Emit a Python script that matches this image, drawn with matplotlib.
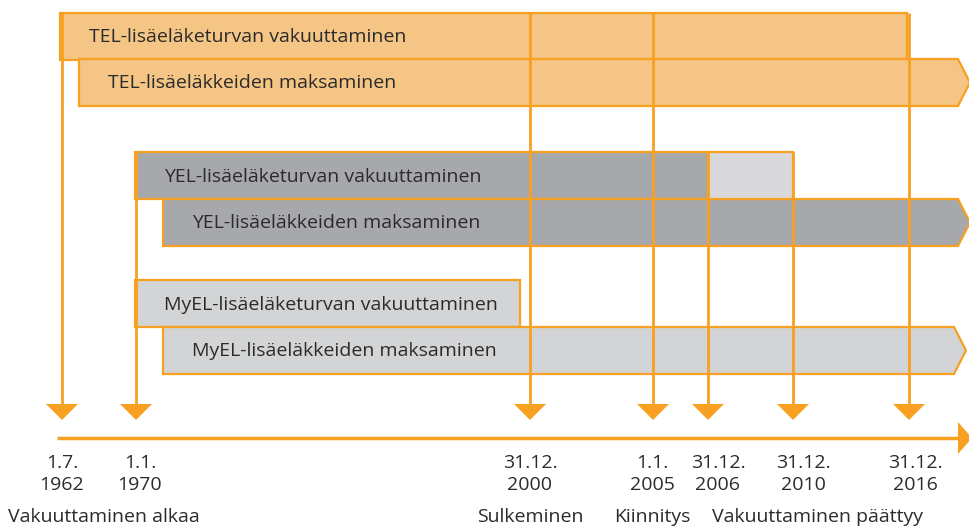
import matplotlib.pyplot as plt
from matplotlib.patches import Polygon, Rectangle

plt.rcParams["font.family"] = ["Open Sans", "DejaVu Sans"]

# ── Data ──────────────────────────────────────────────────
event_dates = ["1.7.\n1962", "1.1.\n1970", "31.12.\n2000", "1.1.\n2005",
               "31.12.\n2006", "31.12.\n2010", "31.12.\n2016"]
event_x     = [62, 136, 530, 653, 708, 793, 909]      # schematic positions
line_top    = [13, 152, 13, 13, 152, 152, 13]
label_x     = [62, 140, 530, 652, 718, 803, 915]

phase_labels = ["Vakuuttaminen alkaa", "Sulkeminen", "Kiinnitys", "Vakuuttaminen päättyy"]
phase_x      = [104, 530, 652, 818]

bar_labels = ["TEL-lisäeläketurvan vakuuttaminen", "TEL-lisäeläkkeiden maksaminen",
              "YEL-lisäeläketurvan vakuuttaminen", "YEL-lisäeläkkeiden maksaminen",
              "MyEL-lisäeläketurvan vakuuttaminen", "MyEL-lisäeläkkeiden maksaminen"]
bar_start  = [60, 79, 135, 163, 135, 163]
bar_end    = [907, 958, 708, 958, 520, 954]
bar_top    = [13, 59, 152, 199, 280, 327]
bar_open   = [False, True, False, True, False, True]
bar_colors = ["#F4C584", "#F4C584", "#A7A8AB", "#A7A8AB", "#D3D4D6", "#D3D4D6"]

# extra light segment of YEL insurance (2006-2010)
ext_start, ext_end, ext_top = 708, 793, 152

ORANGE = "#F7A021"
TEXT = "#2b2b2b"
H = 47
FS = 14

fig = plt.figure(figsize=(9.7, 5.28), dpi=100)
ax = fig.add_axes([0, 0, 1, 1])
ax.set_xlim(0, 970)
ax.set_ylim(528, 0)
ax.axis("off")

# ── Bars ──────────────────────────────────────────────────
for lab, x0, x1, y0, op, c in zip(bar_labels, bar_start, bar_end, bar_top, bar_open, bar_colors):
    y1 = y0 + H
    if op:
        pts = [(x0, y0), (x1, y0), (x1 + 12, y0 + H / 2), (x1, y1), (x0, y1)]
    else:
        pts = [(x0, y0), (x1, y0), (x1, y1), (x0, y1)]
    ax.add_patch(Polygon(pts, closed=True, facecolor=c, edgecolor=ORANGE, lw=1.6, zorder=2))
    ax.text(x0 + 29, y0 + H / 2 + 1, lab, fontsize=FS, color=TEXT, va="center", ha="left", zorder=5)

ax.add_patch(Rectangle((ext_start, ext_top), ext_end - ext_start, H,
                       facecolor="#D9D9DB", edgecolor=ORANGE, lw=1.6, zorder=2))

# ── Event lines and arrows ────────────────────────────────
for x, top in zip(event_x, line_top):
    ax.plot([x, x], [top, 406], color=ORANGE, lw=2, zorder=3, solid_capstyle="butt")
    ax.add_patch(Polygon([(x - 16, 404), (x + 16, 404), (x, 420)], closed=True,
                         facecolor=ORANGE, edgecolor="none", zorder=3))

# ── Time axis ─────────────────────────────────────────────
ax.plot([57, 962], [438, 438], color=ORANGE, lw=2.5, zorder=3, solid_capstyle="butt")
ax.add_patch(Polygon([(958, 422), (972, 438), (958, 454)], closed=True,
                     facecolor=ORANGE, edgecolor="none", zorder=3))

for d, x in zip(event_dates, label_x):
    ax.text(x, 474, d, fontsize=FS, color=TEXT, ha="center", va="center", linespacing=1.3)

for p, x in zip(phase_labels, phase_x):
    ax.text(x, 517, p, fontsize=FS, color=TEXT, ha="center", va="center")

plt.savefig("out.png", dpi=100)
